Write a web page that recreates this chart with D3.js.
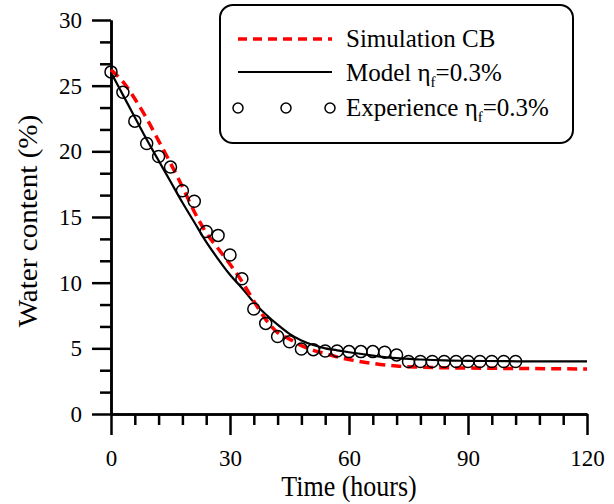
<!DOCTYPE html>
<html>
<head>
<meta charset="utf-8">
<script src="https://cdn.jsdelivr.net/npm/d3@7"></script>
<style>
  body { margin: 0; background: #fff; }
  svg text { font-family: "Liberation Serif", "Times New Roman", serif; fill: #000; }
</style>
</head>
<body>
<svg id="chart" width="614" height="504"></svg>
<script>
// experimental points (hours, %)
const expTime = [0, 3, 6, 9, 12, 15, 18, 21, 24, 27, 30, 33, 36, 39, 42, 45, 48, 51, 54, 57, 60, 63, 66, 69, 72, 75, 78, 81, 84, 87, 90, 93, 96, 99, 102];
const expWater = [26.05, 24.5, 22.3, 20.6, 19.6, 18.8, 17.0, 16.2, 13.9, 13.6, 12.1, 10.3, 8.0, 6.9, 5.9, 5.5, 4.95, 4.9, 4.8, 4.8, 4.75, 4.75, 4.75, 4.7, 4.5, 4.0, 4.0, 4.0, 4.0, 4.0, 4.0, 4.0, 4.0, 4.0, 4.0];

// model curve
const modelTime = [0, 3, 6, 9, 12, 15, 18, 21, 24, 27, 30, 33, 36, 39, 42, 45, 48, 51, 54, 57, 60, 66, 72, 78, 84, 90, 100, 110, 120];
const modelWater = [26.0, 24.3, 22.6, 20.9, 19.3, 17.7, 16.1, 14.6, 13.1, 11.8, 10.6, 9.6, 8.5, 7.6, 6.8, 6.1, 5.6, 5.25, 5.0, 4.85, 4.7, 4.45, 4.25, 4.15, 4.08, 4.05, 4.02, 4.0, 4.0];

// simulation CB curve
const simTime = [0, 3, 6, 9, 12, 15, 18, 21, 24, 27, 30, 33, 36, 39, 42, 45, 48, 51, 54, 57, 60, 66, 72, 78, 84, 90, 100, 110, 120];
const simWater = [26.2, 25.3, 24.0, 22.5, 20.8, 19.1, 17.3, 15.4, 13.8, 12.6, 11.4, 10.1, 8.6, 7.2, 6.2, 5.7, 5.2, 4.85, 4.6, 4.35, 4.15, 3.85, 3.65, 3.57, 3.52, 3.5, 3.47, 3.45, 3.43];

const xMajor = [0, 30, 60, 90, 120];
const yMajor = [0, 5, 10, 15, 20, 25, 30];

const svg = d3.select("#chart");
const x = d3.scaleLinear().domain([0, 120]).range([111, 587]);
const y = d3.scaleLinear().domain([0, 30]).range([414, 20]);

// minor ticks
const xMinor = d3.range(0, 121, 6).filter(d => d % 30 !== 0);
const yMinor = d3.range(0, 31, 5 / 3).filter(d => Math.abs(d / 5 - Math.round(d / 5)) > 0.01);

const xAxisG = svg.append("g").attr("transform", `translate(0,${y(0)})`);
xAxisG.call(d3.axisBottom(x).tickValues(xMinor).tickSize(11).tickSizeOuter(0).tickFormat(""));
xAxisG.append("g").call(d3.axisBottom(x).tickValues(xMajor).tickSize(21).tickSizeOuter(0).tickPadding(15));

const yAxisG = svg.append("g").attr("transform", `translate(${x(0)},0)`);
yAxisG.call(d3.axisLeft(y).tickValues(yMinor).tickSize(11).tickSizeOuter(0).tickFormat(""));
yAxisG.append("g").call(d3.axisLeft(y).tickValues(yMajor).tickSize(19).tickSizeOuter(0).tickPadding(10));

svg.selectAll(".domain").attr("stroke", "#000").attr("stroke-width", 2.5);
svg.selectAll(".tick line").attr("stroke", "#000").attr("stroke-width", 2.5);
svg.selectAll(".tick text").style("font-size", "23px").style("font-family", "Liberation Serif");

// axis titles
svg.append("text")
    .attr("transform", `translate(${x(60)},496) scale(1,1.1)`)
    .attr("text-anchor", "middle")
    .style("font-size", "26px")
    .text("Time (hours)");

svg.append("text")
    .attr("transform", `translate(37,221) rotate(-90) scale(1.12,1.08)`)
    .attr("text-anchor", "middle")
    .style("font-size", "26px")
    .text("Water content (%)");

const line = d3.line().curve(d3.curveMonotoneX);

svg.append("path")
    .attr("d", line(modelTime.map((t, i) => [x(t), y(modelWater[i])])))
    .attr("fill", "none").attr("stroke", "#000").attr("stroke-width", 2.2);

svg.append("path")
    .attr("d", line(simTime.map((t, i) => [x(t), y(simWater[i])])))
    .attr("fill", "none").attr("stroke", "#f00").attr("stroke-width", 3.5)
    .attr("stroke-dasharray", "10,6");

svg.append("g").selectAll("circle")
    .data(expTime)
    .enter().append("circle")
    .attr("cx", d => x(d))
    .attr("cy", (d, i) => y(expWater[i]))
    .attr("r", 6)
    .attr("fill", "none").attr("stroke", "#000").attr("stroke-width", 1.5);

// legend
const legend = svg.append("g");
legend.append("rect")
    .attr("x", 220).attr("y", 5).attr("width", 353).attr("height", 138)
    .attr("rx", 13).attr("ry", 13)
    .attr("fill", "#fff").attr("stroke", "#000").attr("stroke-width", 2);

legend.append("line")
    .attr("x1", 238).attr("x2", 332).attr("y1", 39).attr("y2", 39)
    .attr("stroke", "#f00").attr("stroke-width", 3.5).attr("stroke-dasharray", "9,6");
legend.append("line")
    .attr("x1", 238).attr("x2", 332).attr("y1", 72).attr("y2", 72)
    .attr("stroke", "#000").attr("stroke-width", 2.2);
legend.selectAll("circle")
    .data([238, 286, 330])
    .enter().append("circle")
    .attr("cx", d => d).attr("cy", 108).attr("r", 5)
    .attr("fill", "none").attr("stroke", "#000").attr("stroke-width", 1.5);

function legendText(yPos, label, withEta) {
    const t = legend.append("text").attr("x", 346).attr("y", yPos).style("font-size", "25px");
    t.append("tspan").text(label);
    if (withEta) {
        t.append("tspan").text("η");
        t.append("tspan").attr("dy", 6).style("font-size", "15px").text("f");
        t.append("tspan").attr("dy", -6).text("=0.3%");
    }
}
legendText(47, "Simulation CB", false);
legendText(81, "Model ", true);
legendText(116, "Experience ", true);
</script>
</body>
</html>
